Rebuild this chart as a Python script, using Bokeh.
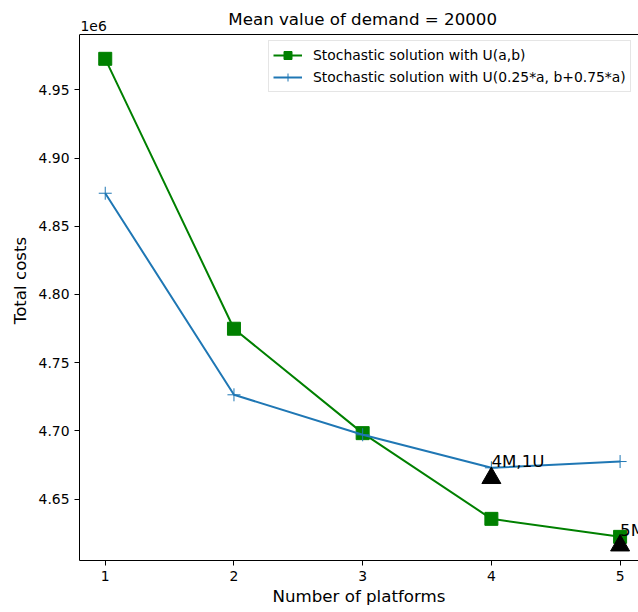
from bokeh.plotting import figure
from bokeh.models import Range1d, FixedTicker, CustomJSTickFormatter, Label, Span
from bokeh.core.properties import value
from bokeh.embed import file_html
from bokeh.resources import INLINE

# ---- data ----
platforms = [1, 2, 3, 4, 5]
cost_uab = [4972700, 4774900, 4698400, 4635600, 4622400]
cost_u025 = [4874200, 4726500, 4697200, 4673000, 4677600]
best_x = [4, 5]
best_y = [4665500, 4616100]
note_x = [4, 5]
note_y = [4673000, 4622400]
note_text = ["4M,1U", "5M,0U"]
x_ticks = [1, 2, 3, 4, 5]
y_ticks = [4650000, 4700000, 4750000, 4800000, 4850000, 4900000, 4950000]
title_text = "Mean value of demand = 20000"
offset_text = "1e6"

# axis limits (matplotlib-like view)
X_MIN, X_MAX, X_MID = 0.8, 5.143, 3.0
Y_MIN, Y_TOP = 4605080, 4990510     # bottom / top spine
Y_VIEW_MAX = 5015430                # extra room above the top spine for the title

FONT = "DejaVu Sans"
GREEN = "#008000"
BLUE = "#1f77b4"

p = figure(
    frame_width=559, frame_height=560,
    x_range=Range1d(X_MIN, X_MAX), y_range=Range1d(Y_MIN, Y_VIEW_MAX),
    output_backend="svg", toolbar_location=None,
    min_border_left=79, min_border_right=0, min_border_top=0, min_border_bottom=52,
)
p.title.visible = False
p.outline_line_color = None
p.background_fill_color = "white"
p.border_fill_color = "white"
p.xgrid.visible = False
p.ygrid.visible = False

for ax in (p.xaxis[0], p.yaxis[0]):
    ax.axis_line_color = "black"
    ax.axis_line_width = 1
    ax.major_tick_line_color = "black"
    ax.major_tick_out = 5
    ax.major_tick_in = 0
    ax.minor_tick_out = 0
    ax.minor_tick_in = 0
    ax.major_label_standoff = 5
    ax.major_label_text_font = FONT
    ax.major_label_text_font_size = "13.9px"
    ax.major_label_text_color = "black"
    ax.axis_label_text_font = FONT
    ax.axis_label_text_font_size = "16.67px"
    ax.axis_label_text_font_style = "normal"
    ax.axis_label_text_color = "black"

p.xaxis[0].ticker = FixedTicker(ticks=x_ticks)
p.yaxis[0].ticker = FixedTicker(ticks=y_ticks)
p.yaxis[0].formatter = CustomJSTickFormatter(code="return (tick/1e6).toFixed(2);")
p.yaxis[0].bounds = (Y_MIN, Y_TOP)
p.xaxis[0].axis_label = "Number of platforms"
p.yaxis[0].axis_label = "Total costs"
p.xaxis[0].axis_label_standoff = 3
p.yaxis[0].axis_label_standoff = 6

# top spine
p.add_layout(Span(location=Y_TOP, dimension="width", line_color="black", line_width=1))

lab1 = "Stochastic solution with U(a,b)"
lab2 = "Stochastic solution with U(0.25*a, b+0.75*a)"

p.line(platforms, cost_uab, line_color=GREEN, line_width=2, legend_label=lab1)
p.scatter(platforms, cost_uab, marker="square", size=13, fill_color=GREEN,
          line_color=GREEN, legend_label=lab1)
p.line(platforms, cost_u025, line_color=BLUE, line_width=2, legend_label=lab2)
p.scatter(platforms, cost_u025, marker="cross", size=13, line_color=BLUE,
          line_width=1, legend_label=lab2)

p.scatter(best_x, best_y, marker="triangle", size=19, fill_color="black", line_color="black")
p.text(note_x, note_y, text=note_text, text_font=value(FONT), text_font_size="16.67px",
       text_align="left", text_baseline="middle", y_offset=-6, text_color="black")

p.add_layout(Label(x=X_MID, y=Y_TOP, text=title_text, text_font=FONT,
                   text_font_size="16.67px", text_align="center",
                   text_baseline="middle", y_offset=15, text_color="black"))
p.add_layout(Label(x=X_MIN, y=Y_TOP, text=offset_text, text_font=FONT,
                   text_font_size="13.9px", text_align="left",
                   text_baseline="middle", x_offset=1, y_offset=9,
                   text_color="black"))

lg = p.legend[0]
lg.location = (189, 468)
lg.padding = 4
lg.spacing = 2
lg.label_text_font = FONT
lg.label_text_font_size = "13.9px"
lg.label_text_color = "black"
lg.label_height = 20
lg.glyph_height = 20
lg.glyph_width = 29
lg.label_standoff = 11
lg.border_line_color = "#cccccc"
lg.border_line_width = 1
lg.background_fill_alpha = 0.8

open("out.html", "w").write(file_html(p, INLINE))
